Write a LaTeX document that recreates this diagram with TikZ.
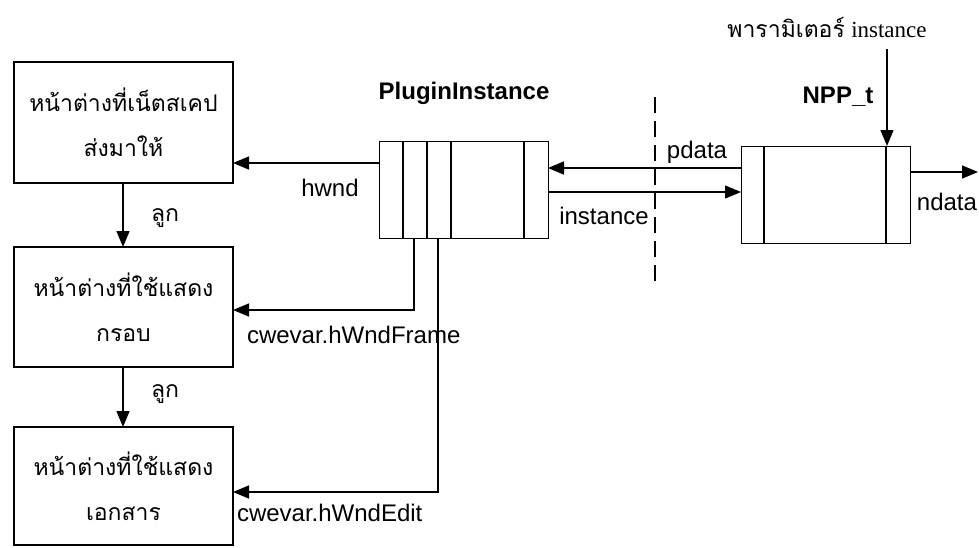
\documentclass[tikz,border=0pt]{standalone}
\usepackage{fontspec}
\setmainfont{Liberation Sans}
\newfontfamily\thai[Script=Thai]{Loma}
\newfontfamily\serifl{Liberation Serif}
\usetikzlibrary{arrows.meta}
\begin{document}
\begin{tikzpicture}[x=1pt,y=-1pt,
  every node/.style={inner sep=0pt,outer sep=0pt},
  wbox/.style={draw,line width=1.3pt,minimum width=219pt,minimum height=121pt,anchor=north west,align=center,font=\thai\fontsize{23}{45}\selectfont},
  sbox/.style={draw,line width=0.8pt,anchor=north west},
  divl/.style={line width=1.4pt},
  conn/.style={line width=1.4pt},
  arr/.style={conn,-{Triangle[length=16pt,width=13pt]}},
  lbl/.style={font=\fontsize{24}{28}\selectfont},
  blbl/.style={font=\bfseries\fontsize{24}{28}\selectfont},
  tlbl/.style={font=\thai\fontsize{23}{27}\selectfont}]
\useasboundingbox (0,0) rectangle (979,547);
% left window boxes
\node[wbox] (w1) at (14,62) {หน้าต่างที่เน็ตสเคป\\ส่งมาให้};
\node[wbox,minimum height=120pt] (w2) at (14,247) {หน้าต่างที่ใช้แสดง\\กรอบ};
\node[wbox,minimum height=118pt] (w3) at (14,427) {หน้าต่างที่ใช้แสดง\\เอกสาร};
\draw[arr] (w1.south -| 123,0) -- (w2.north -| 123,0) node[pos=0.55,right=28pt,tlbl] (c1) {ลูก};
\draw[arr] (w2.south -| 123,0) -- (w3.north -| 123,0) node[pos=0.45,right=28pt,tlbl] (c2) {ลูก};
% PluginInstance structure
\node[sbox,minimum width=169pt,minimum height=97pt] (pi) at (379,141) {};
\foreach \xx in {403,427,451,524} \draw[divl] (\xx,141) -- (\xx,238);
\node[blbl] (pil) at (464,93) {PluginInstance};
% NPP_t structure
\node[sbox,minimum width=169pt,minimum height=97pt] (np) at (741,146) {};
\foreach \xx in {764,886} \draw[divl] (\xx,146) -- (\xx,243);
\node[blbl] (npl) at (838,97) {NPP\_t};
\node[font=\fontsize{23}{27}\selectfont] (par) at (827,28) {{\thai พารามิเตอร์} {\serifl instance}};
\coordinate (pt) at (887,49);
\draw[arr] (pt) -- (pt |- np.north);
% dashed divider
\coordinate (d1) at (655,97);
\coordinate (d2) at (655,287);
\draw[line width=1.1pt,dash pattern=on 16pt off 8pt] (d1) -- (d2);
% connectors
\draw[arr] (pi.west |- 0,163) -- (w1.east |- 0,163);
\node[lbl] (hw) at (330,188) {hwnd};
\draw[arr] (np.west |- 0,168) -- (pi.east |- 0,168);
\node[lbl] (pd) at (697,152) {pdata};
\draw[arr] (pi.east |- 0,192) -- (np.west |- 0,192);
\node[lbl] (ins) at (604,216) {instance};
\coordinate (nd) at (978,172);
\draw[arr] (np.east |- nd) -- (nd);
\node[lbl,anchor=east] (ndl) at (977,202) {ndata};
\draw[arr] (pi.south -| 414,0) -- (414,310) -- (w2.east |- 0,310);
\node[lbl,anchor=west] (fr) at (247,335) {cwevar.hWndFrame};
\draw[arr] (pi.south -| 438,0) -- (438,492) -- (w3.east |- 0,492);
\node[lbl,anchor=west] (ed) at (237,513) {cwevar.hWndEdit};
\end{tikzpicture}
\end{document}
